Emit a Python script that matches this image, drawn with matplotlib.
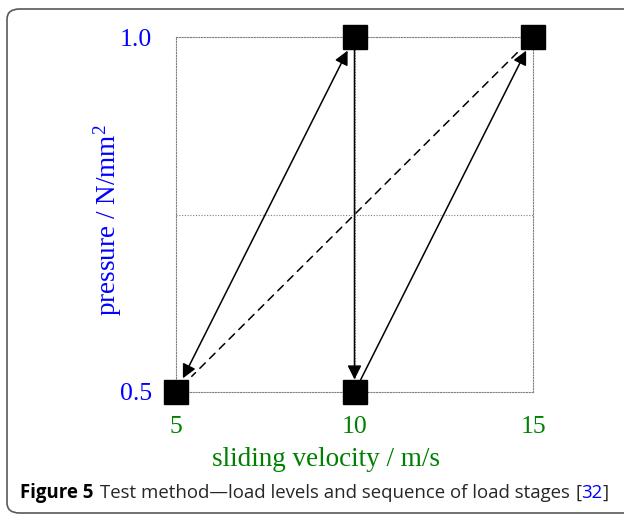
import matplotlib.pyplot as plt
from matplotlib.patches import FancyBboxPatch

plt.rcParams["mathtext.fontset"] = "custom"
plt.rcParams["mathtext.rm"] = "Liberation Serif"
plt.rcParams["mathtext.it"] = "Liberation Serif:italic"

# load stages: sliding velocity (m/s) and pressure (N/mm^2)
velocity = [5, 10, 15, 10]
pressure = [0.5, 1.0, 1.0, 0.5]

# sequence of load stages (start index, end index)
double_steps = [(0, 1)]
solid_steps = [(1, 3), (3, 2)]
dashed_steps = [(2, 0)]

x_ticks = [5, 10, 15]
x_ticklabels = ["5", "10", "15"]
y_ticks = [0.5, 1.0]
y_ticklabels = ["0.5", "1.0"]

W, H = 624, 517


def px(x, y):
    return x / W, 1 - y / H


fig = plt.figure(figsize=(W / 100, H / 100), dpi=100)
ax = fig.add_axes([176 / W, 1 - 392 / H, (533 - 176) / W, (392 - 37) / H])

ax.set_xlim(5, 15)
ax.set_ylim(0.5, 1.0)

# dotted frame and inner grid lines
dots = (0, (1, 1.5))
for s in ax.spines.values():
    s.set_linestyle(dots)
    s.set_color("0.5")
    s.set_linewidth(0.8)
ax.axvline(10, color="0.5", lw=0.8, ls=dots, zorder=0)
ax.axhline(0.75, color="0.5", lw=0.8, ls=dots, zorder=0)

ax.set_xticks(x_ticks)
ax.set_xticklabels(x_ticklabels)
ax.set_yticks(y_ticks)
ax.set_yticklabels(y_ticklabels)
ax.tick_params(length=0, pad=17, labelsize=18.5)
for t in ax.get_xticklabels():
    t.set_color("green")
    t.set_family("Liberation Serif")
for t in ax.get_yticklabels():
    t.set_color("blue")
    t.set_family("Liberation Serif")


def shrink_for(a, b):
    # arrow tips end at square edge (corner for diagonal moves)
    if velocity[a] == velocity[b]:
        return 9
    return 11


for a, b in double_steps:
    ax.annotate("", xy=(velocity[b], pressure[b]), xytext=(velocity[a], pressure[a]),
                arrowprops=dict(arrowstyle="<|-|>", color="black", lw=1.1,
                                mutation_scale=21, shrinkA=11, shrinkB=11),
                annotation_clip=False)
for a, b in solid_steps:
    ax.annotate("", xy=(velocity[b], pressure[b]), xytext=(velocity[a], pressure[a]),
                arrowprops=dict(arrowstyle="-|>", color="black", lw=1.1,
                                mutation_scale=21, shrinkA=0, shrinkB=shrink_for(a, b)),
                annotation_clip=False)
for a, b in dashed_steps:
    ax.annotate("", xy=(velocity[b], pressure[b]), xytext=(velocity[a], pressure[a]),
                arrowprops=dict(arrowstyle="-", color="black", lw=1.1, ls=(0, (5, 4)),
                                shrinkA=16, shrinkB=16),
                annotation_clip=False)

ax.plot(velocity, pressure, "s", color="black", markersize=17, clip_on=False, zorder=5)

# axis labels
fig.text(*px(326, 460), "sliding velocity / m/s", color="green", fontsize=19.5,
         family="Liberation Serif", ha="center", va="center")
fig.text(*px(108, 220), "pressure / N/mm$^2$", color="blue", fontsize=19.5,
         family="Liberation Serif", ha="center", va="center", rotation=90)

# rounded frame of the figure panel
box = FancyBboxPatch(px(7, 513), 700 / W, (513 - 9) / H,
                     boxstyle="round,pad=0,rounding_size=0.02",
                     transform=fig.transFigure, fill=False, ec="0.35", lw=1.2,
                     clip_on=False)
fig.patches.append(box)

# caption
cap_y = px(0, 493)[1]
cap_fs = 13.4
t1 = fig.text(px(20, 0)[0], cap_y, "Figure 5", fontsize=cap_fs, weight="bold",
              family="Open Sans", va="center")
fig.canvas.draw()
r = fig.canvas.get_renderer()
bb = t1.get_window_extent(r)
t2 = fig.text((bb.x1 + 7) / W, cap_y, "Test method\u2014load levels and sequence of load stages ",
              fontsize=cap_fs, family="Open Sans", va="center", color="0.15")
bb = t2.get_window_extent(r)
t3 = fig.text(bb.x1 / W, cap_y, "[", fontsize=cap_fs, family="Open Sans", va="center", color="0.15")
bb = t3.get_window_extent(r)
t4 = fig.text(bb.x1 / W, cap_y, "32", fontsize=cap_fs, family="Open Sans", va="center", color="blue")
bb = t4.get_window_extent(r)
fig.text(bb.x1 / W, cap_y, "]", fontsize=cap_fs, family="Open Sans", va="center", color="0.15")

fig.savefig("out.png", dpi=100)
